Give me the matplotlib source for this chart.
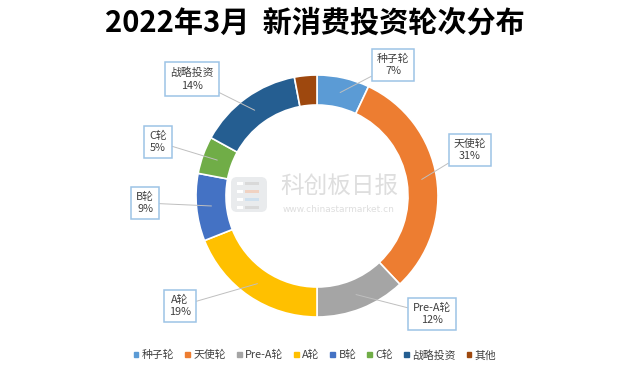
import matplotlib
matplotlib.use('Agg')
import matplotlib.pyplot as plt
import matplotlib.patches as mpatches
import numpy as np

plt.rcParams['font.family'] = ['Noto Sans CJK SC', 'DejaVu Sans']

# ── データ ────────────────────────────────────────────
TITLE = '2022年3月  新消费投资轮次分布'
labels = ['种子轮', '天使轮', 'Pre-A轮', 'A轮', 'B轮', 'C轮', '战略投资', '其他']
shares = [7, 31, 12, 19, 9, 5, 14, 3]
colors = ['#5B9BD5', '#ED7D31', '#A5A5A5', '#FFC000', '#4472C4', '#70AD47', '#255E91', '#9E480E']
# データラベルの位置 (px, 上原点)
label_pos = [(393, 65), (470, 150), (432, 314), (180, 306), (145, 203), (158, 142), (192, 79), None]

W, H = 630, 368
CX, CY, R, RW = 317, H - 196, 121, 30

fig = plt.figure(figsize=(W / 100, H / 100), dpi=100, facecolor='white')
ax = fig.add_axes([0, 0, 1, 1])

wedges, _ = ax.pie(shares, colors=colors, startangle=90, counterclock=False,
                   center=(CX, CY), radius=R, frame=True,
                   wedgeprops=dict(width=RW, edgecolor='white', linewidth=1.2))
ax.set_xlim(0, W)
ax.set_ylim(0, H)
ax.set_aspect('auto')
ax.axis('off')

# ── データラベル ──────────────────────────────────────
for w, lab, v, pos in zip(wedges, labels, shares, label_pos):
    if pos is None:
        continue
    ang = np.deg2rad((w.theta1 + w.theta2) / 2)
    rm = R - RW / 2
    xy = (CX + rm * np.cos(ang), CY + rm * np.sin(ang))
    ax.annotate(f'{lab}\n{v}%', xy=xy, xytext=(pos[0], H - pos[1]),
                ha='center', va='center', fontsize=7.8, color='#404040',
                linespacing=1.35,
                bbox=dict(boxstyle='square,pad=0.45', fc='white', ec='#9DC3E6', lw=1.1),
                arrowprops=dict(arrowstyle='-', color='#BFBFBF', lw=0.7,
                                shrinkA=0, shrinkB=0))

# ── ウォーターマーク ───────────────────────────────────
ax.add_patch(mpatches.FancyBboxPatch((231, H - 212), 36, 35,
             boxstyle='round,pad=0,rounding_size=6', fc='#E9EBED', ec='none', zorder=3))
for yy, cc in [(181, '#D9D9D9'), (189, '#F0D2C2'), (197, '#CFE0EE'), (205, '#D9D9D9')]:
    ax.add_patch(mpatches.Rectangle((237, H - yy - 4), 6, 3, fc='#FFFFFF', ec='none', zorder=4))
    ax.add_patch(mpatches.Rectangle((245, H - yy - 4), 14, 3, fc=cc, ec='none', zorder=4))
ax.text(339, H - 186, '科创板日报', ha='center', va='center', fontsize=17,
        color='#DEDEDE', zorder=3)
ax.text(339, H - 210, 'www.chinastarmarket.cn', ha='center', va='center', fontsize=6.5,
        color='#DEDEDE', family=['DejaVu Sans'], zorder=3)

# ── タイトル / 凡例 ──────────────────────────────────
fig.text(0.5, 1 - 23 / H, TITLE, ha='center', va='center', fontsize=21,
         fontweight='bold', color='black')

handles = [mpatches.Patch(color=c, label=l) for c, l in zip(colors, labels)]
fig.legend(handles=handles, loc='center', bbox_to_anchor=(0.5, 1 - 355 / H), ncol=8,
           frameon=False, fontsize=7.8, handlelength=0.45, handleheight=0.45,
           handletextpad=0.3, columnspacing=1.0, labelcolor='#404040')

fig.savefig('out.png', dpi=100, facecolor='white')
